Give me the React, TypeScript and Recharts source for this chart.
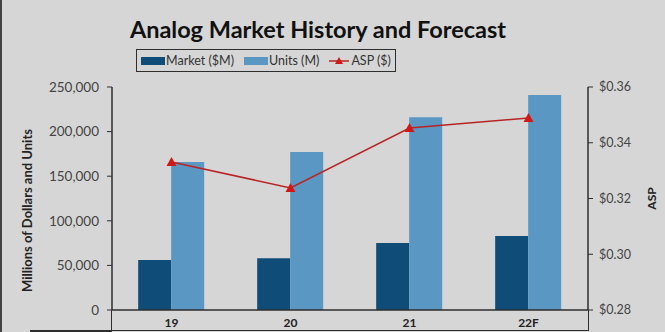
import { ComposedChart, Bar, Line, XAxis, YAxis } from 'recharts';

// values
const years = ['19', '20', '21', '22F'];
const marketSales = [56000, 58000, 75000, 83000];
const unitsShipped = [166000, 177000, 216000, 241000];
const avgSellingPrice = [0.3331, 0.3238, 0.3453, 0.3489];

const leftTicks = [0, 50000, 100000, 150000, 200000, 250000];
const rightTicks = [0.28, 0.3, 0.32, 0.34, 0.36];

const MARKET_COLOR = '#0f4c77';
const UNITS_COLOR = '#5b97c3';
const ASP_COLOR = '#b82424';
const AXIS_COLOR = '#2e2e2e';
const FONT = 'Lato, "Open Sans", sans-serif';

const legendItems = [
  { label: 'Market ($M)', color: MARKET_COLOR, kind: 'bar' },
  { label: 'Units (M)', color: UNITS_COLOR, kind: 'bar' },
  { label: 'ASP ($)', color: ASP_COLOR, kind: 'line' },
];

const chartData = years.map((year, i) => ({
  year,
  market: marketSales[i],
  units: unitsShipped[i],
  asp: avgSellingPrice[i],
}));

function TriangleDot(props: any) {
  const { cx, cy } = props;
  if (cx == null || cy == null) return null;
  return <polygon points={`${cx},${cy - 5} ${cx - 5},${cy + 4} ${cx + 5},${cy + 4}`} fill="#d01818" />;
}

function LegendBox() {
  return (
    <div style={{
      position: 'absolute', left: 136, top: 49, width: 260, height: 23,
      display: 'flex', alignItems: 'center', justifyContent: 'center', gap: 10,
      border: `1.5px solid ${AXIS_COLOR}`, boxSizing: 'border-box',
      fontFamily: FONT, fontSize: 12.5, color: '#333',
    }}>
      {legendItems.map((item) => (
        <span key={item.label} style={{ display: 'flex', alignItems: 'center' }}>
          {item.kind === 'line' ? (
            <svg width={20} height={10} style={{ marginRight: 2 }}>
              <line x1={0} y1={5} x2={20} y2={5} stroke={item.color} strokeWidth={1.5} />
              <polygon points="10,1 6,8 14,8" fill="#d01818" />
            </svg>
          ) : (
            <span style={{ width: 24, height: 8, background: item.color, display: 'inline-block', marginRight: 1 }} />
          )}
          {item.label}
        </span>
      ))}
    </div>
  );
}

export default function App() {
  return (
    <div style={{ position: 'absolute', left: 0, top: 0, width: 665, height: 332, background: '#d6d6d6', overflow: 'hidden' }}>
      <div style={{ position: 'absolute', left: 0, top: 0, width: 2, height: 332, background: '#444' }} />
      <div style={{
        position: 'absolute', left: 0, width: 636, top: 15, textAlign: 'center',
        fontFamily: FONT, fontWeight: 700, fontSize: 23.5, color: '#111',
      }}>
        Analog Market History and Forecast
      </div>
      <LegendBox />

      <ComposedChart
        width={665}
        height={332}
        data={chartData}
        margin={{ top: 87, right: 0, bottom: 0, left: 0 }}
        barGap={0}
        barCategoryGap="22%"
        style={{ position: 'absolute', left: 0, top: 0 }}
      >
        <XAxis
          dataKey="year"
          height={22}
          axisLine={{ stroke: AXIS_COLOR, strokeWidth: 1.5 }}
          tickLine={false}
          tick={{ fill: '#222', fontSize: 12, fontWeight: 700, fontFamily: FONT }}
          tickMargin={2}
        />
        <YAxis
          yAxisId="left"
          width={112}
          domain={[0, 250000]}
          ticks={leftTicks}
          tickFormatter={(v: number) => v.toLocaleString('en-US')}
          axisLine={{ stroke: AXIS_COLOR, strokeWidth: 1.5 }}
          tickLine={{ stroke: AXIS_COLOR }}
          tickSize={5}
          tickMargin={8}
          tick={{ fill: '#444', fontSize: 13.5, fontFamily: FONT }}
          label={{
            value: 'Millions of Dollars and Units', angle: -90, position: 'insideLeft', dx: 22, dy: 12,
            style: { fill: '#222', fontSize: 13, fontWeight: 700, fontFamily: FONT, textAnchor: 'middle' },
          }}
        />
        <YAxis
          yAxisId="right"
          orientation="right"
          width={77}
          domain={[0.28, 0.36]}
          ticks={rightTicks}
          tickFormatter={(v: number) => `$${v.toFixed(2)}`}
          axisLine={{ stroke: AXIS_COLOR, strokeWidth: 1.5 }}
          tickLine={{ stroke: AXIS_COLOR }}
          tickSize={5}
          tickMargin={6}
          tick={{ fill: '#444', fontSize: 12.5, fontFamily: FONT }}
          label={{
            value: 'ASP', angle: -90, position: 'insideRight', dx: -8,
            style: { fill: '#222', fontSize: 12, fontWeight: 700, fontFamily: FONT, textAnchor: 'middle' },
          }}
        />
        <Bar yAxisId="left" dataKey="market" name="Market ($M)" fill={MARKET_COLOR} isAnimationActive={false} />
        <Bar yAxisId="left" dataKey="units" name="Units (M)" fill={UNITS_COLOR} isAnimationActive={false} />
        <Line
          yAxisId="right"
          dataKey="asp"
          name="ASP ($)"
          type="linear"
          stroke={ASP_COLOR}
          strokeWidth={1.5}
          dot={<TriangleDot />}
          activeDot={false}
          isAnimationActive={false}
        />
      </ComposedChart>

      {/* data-table frame under the category axis */}
      <div style={{
        position: 'absolute', left: 111, top: 310, width: 476, height: 20,
        borderLeft: `1.5px solid ${AXIS_COLOR}`, borderRight: `1.5px solid ${AXIS_COLOR}`,
        borderBottom: `1.5px solid ${AXIS_COLOR}`, pointerEvents: 'none',
      }} />
      <div style={{ position: 'absolute', left: 30, top: 330, width: 82, height: 1.5, background: AXIS_COLOR }} />
    </div>
  );
}
